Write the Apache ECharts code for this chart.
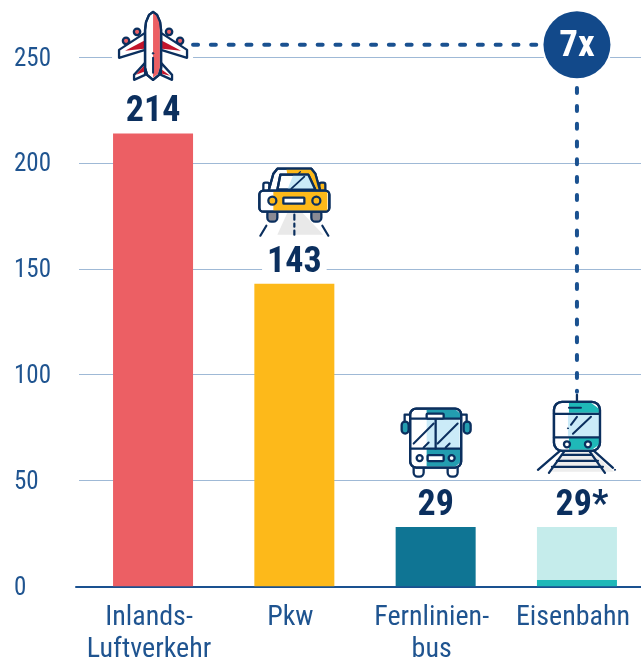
<!DOCTYPE html>
<html><head><meta charset="utf-8">
<style>html,body{margin:0;padding:0;background:#fff}#c{width:641px;height:659px}</style>
<script src="https://cdn.jsdelivr.net/npm/echarts@6/dist/echarts.min.js"></script>
</head><body><div id="c"></div>
<script>
const categories = ['Inlands-\nLuftverkehr', 'Pkw', 'Fernlinien-\nbus', 'Eisenbahn'];
const mainValues = [214, 143, 28, 3];
const lightValues = ['-', '-', '-', 25];
const totals = [214, 143, 28, 28];
const valueLabels = ['214', '143', '29', '29*'];
const yTicks = [0, 50, 100, 150, 200, 250];
const iconAnchors = [[0, 255.4, 'plane'], [1, 182.7, 'car'], [2, 68.4, 'bus'], [3, 71.6, 'train']];
const factorLabel = '7x';
const linkLevel = 255.9, linkEnd = 92;

const NAVY = '#0B2F5E', BLUE = '#1A5190', RED = '#EC5F64', DRED = '#C2142A', YEL = '#FDB91A',
  TEAL = '#0F7594', MTEAL = '#239DB0', LTEAL = '#C5ECEB', TTEAL = '#1FB8B8', GLASS = '#CBEBF8';
const barColors = [RED, YEL, TEAL, TTEAL];

const st = (fill, stroke, w) => ({ fill: fill || 'none', stroke: stroke === undefined ? NAVY : stroke, lineWidth: w || 2.3, lineJoin: 'round', lineCap: 'round' });
const poly = (pts, fill, stroke, w) => ({ type: 'polygon', shape: { points: pts }, style: st(fill, stroke, w) });
const pl = (pts, w, col) => ({ type: 'polyline', shape: { points: pts }, style: st(null, col, w) });
const rr = (x, y, width, height, r, fill, stroke, w) => ({ type: 'rect', shape: { x, y, width, height, r }, style: st(fill, stroke, w) });
const circ = (cx, cy, r, fill, stroke, w) => ({ type: 'circle', shape: { cx, cy, r }, style: st(fill, stroke, w) });
const NO = 'transparent';

const mirrorX = pts => pts.map(p => [-p[0], p[1]]);
function planeIcon() {
  const wing = [[-8, -13], [-34, 4], [-34, 12], [-8, 4]];
  const tail = [[-8, 17], [-19, 29], [-19, 34], [-8, 29]];
  const fus = [[0, -34], [4, -31], [7, -24], [8, -16], [8, 22], [6, 29], [0, 34], [-6, 29], [-8, 22], [-8, -16], [-7, -24], [-4, -31]];
  const out = [rr(-41, 8, 81, 6, 0, '#fff', NO)];
  [[16, -14], [27, -5]].forEach(p => {
    out.push(circ(-p[0], p[1], 3.2, RED), circ(p[0], p[1], 3.2, RED));
  });
  out.push(poly(wing, '#fff'), poly(mirrorX(wing), '#fff'), poly(tail, '#fff'), poly(mirrorX(tail), '#fff'));
  out.push(poly([[-28, 5], [-9, -5], [-9, 3]], DRED, NO), poly(mirrorX([[-28, 5], [-9, -5], [-9, 3]]), DRED, NO));
  out.push(poly([[-17, 29], [-9, 20], [-9, 26]], DRED, NO), poly(mirrorX([[-17, 30], [-9, 24], [-9, 28]]), DRED, NO));
  out.push(poly(fus, '#fff'));
  out.push(poly([[0, -33], [4, -30], [6.8, -24], [6.8, 22], [5, 28], [0, 32]], RED, NO));
  out.push(poly(fus, null));
  out.push(pl([[0, 12], [0, 27]], 2), circ(0, 7.5, 0.8, NAVY, NAVY, 1));
  return out;
}
function carIcon() {
  const cab = [[-26, -8], [-21, -26], [-17, -31], [17, -31], [21, -26], [26, -8]];
  return [
    poly([[-17, 35], [-7, 13], [8, 13], [29, 35]], '#E9E9E9', NO),
    pl([[0, 15], [0, 20]], 2.2), pl([[0, 24], [0, 27]], 2.2), pl([[0, 31], [0, 35]], 2.2),
    pl([[-28, 26], [-34, 36]], 2.2), pl([[28, 26], [34, 36]], 2.2),
    rr(-27, 10, 10, 12, 4, '#8A8A94'), rr(17, 10, 10, 12, 4, '#8A8A94'),
    rr(-31, -17, 6, 10, 2, '#fff'), rr(25, -17, 6, 10, 2, YEL),
    poly(cab, '#fff'),
    poly([[-8, -31], [17, -31], [21, -26], [26, -8], [-4, -8]], YEL, NO),
    poly(cab, null),
    poly([[-17, -10], [-14, -25], [14, -25], [21, -10]], '#fff'),
    poly([[-7, -10], [-1, -25], [14, -25], [21, -10]], GLASS, NO),
    poly([[-17, -10], [-14, -25], [14, -25], [21, -10]], null),
    pl([[-3, -11], [10, -23]], 1.8), pl([[4, -26], [6, -28]], 1.2),
    rr(-35, -9, 70, 21, 4, '#fff'),
    poly([[-21, -8], [33, -8], [33, 11], [-21, 11]], YEL, NO),
    rr(-35, -9, 70, 21, 4, null),
    circ(-22, 1, 4, YEL), circ(22, 1, 4, YEL),
    rr(-11, -2, 21, 6, 0.5, '#fff')
  ];
}
function busIcon() {
  return [
    rr(-34, -20, 7, 12, 3.5, MTEAL), rr(28, -20, 7, 12, 3.5, MTEAL),
    pl([[-31, -20], [-31, -27], [-25, -27]]), pl([[31, -20], [31, -27], [25, -27]]),
    rr(-22, 22, 10, 13, 4, '#fff'), rr(12, 22, 10, 13, 4, '#fff'),
    rr(-25.5, -33, 51, 59, 6, '#fff'),
    poly([[-9, -32], [20, -32], [24.5, -28], [24.5, -23], [-9, -23]], MTEAL, NO),
    poly([[-9, 7], [24.5, 7], [24.5, 21], [20, 25], [-9, 25]], MTEAL, NO),
    rr(-9, -22, 33, 29, 0, GLASS, NO),
    rr(-25.5, -33, 51, 59, 6, null),
    pl([[-25, -23], [25, -23]]), pl([[-25, 7], [25, 7]]), pl([[0, -23], [0, 7]]),
    pl([[-22, 2], [-2, -18]], 2), pl([[-12, 6], [-7, 1]], 2), pl([[2, 2], [22, -18]], 2), pl([[10, 6], [14, 2]], 2),
    rr(-9, -28, 17, 5, 1, '#fff'),
    circ(-16, 16.5, 3, '#fff'), circ(16, 16.5, 3, '#fff'),
    rr(-8, 13.5, 16, 6, 1, '#fff')
  ];
}
function trainIcon() {
  return [
    poly([[-14, 16], [14, 16], [37, 37], [-27, 37]], '#EDEDED', NO),
    pl([[-17, 16], [-39, 35]]), pl([[17, 16], [36, 33]]), pl([[-13, 17], [-28, 38]]), pl([[13, 17], [28, 38]]),
    pl([[-15, 20], [15, 20]]), pl([[-20, 26], [21, 26]]), pl([[-25, 32], [26, 32]]),
    circ(38, 35, 0.6, NAVY, NAVY, 1),
    pl([[0, -40], [0, -33]]),
    rr(-23, -33, 46, 49, 8, '#fff'),
    poly([[-8, -32], [14, -32], [22, -26], [22, -22], [-8, -22]], TTEAL, NO),
    poly([[-8, 3], [22, 3], [22, 10], [15, 15], [-8, 15]], TTEAL, NO),
    rr(-9, -20, 31, 22, 0, GLASS, NO),
    rr(-23, -33, 46, 49, 8, null),
    pl([[-23, -21], [23, -21]]), pl([[-23, 2.5], [23, 2.5]]),
    pl([[-8, -27], [4, -27]], 2),
    pl([[-4, -1], [14, -18]], 2), pl([[-6, -10], [0, -18]], 2), circ(-9, -6.5, 0.5, NAVY, NAVY, 1),
    circ(-10, 9.5, 3, '#fff'), circ(11, 9.5, 3, '#fff')
  ];
}
const iconMakers = { plane: planeIcon, car: carIcon, bus: busIcon, train: trainIcon };

const font = '"Liberation Sans Narrow","Roboto Condensed","Liberation Sans",sans-serif';
const chart = echarts.init(document.getElementById('c'), null, { renderer: 'canvas' });
const TOP = 57.3, H = 529;
chart.setOption({
  animation: false,
  backgroundColor: '#fff',
  grid: [
    { left: 79, right: 0, top: TOP, height: H, outerBoundsMode: 'none' },
    { left: 76, right: 0, top: TOP, height: H, outerBoundsMode: 'none' },
    { left: 82.4, width: 565.2, top: TOP, height: H, outerBoundsMode: 'none' }
  ],
  xAxis: [
    { gridIndex: 0, type: 'value', show: false },
    { gridIndex: 1, type: 'value', axisLine: { show: true, onZero: false, lineStyle: { color: '#1A5190', width: 2 } }, axisTick: { show: false }, axisLabel: { show: false }, splitLine: { show: false } },
    { gridIndex: 2, type: 'category', data: categories, axisLine: { show: false }, axisTick: { show: false },
      axisLabel: { show: true, interval: 0, margin: 16, padding: [0, 8, 0, 0], fontFamily: font, fontSize: 28, lineHeight: 32, color: '#1F5490' } }
  ],
  yAxis: [
    { gridIndex: 0, type: 'value', min: 0, max: 250, interval: 50, axisLine: { show: false }, axisTick: { show: false },
      splitLine: { show: true, showMinLine: false, lineStyle: { color: '#9FB9D6', width: 1 } },
      axisLabel: { show: true, margin: 65, align: 'left', formatter: '{t|{value}}',
        rich: { t: { padding: [4, 0, 0, 0], fontFamily: font, fontSize: 25, color: '#1F5490' } },
        fontFamily: font, fontSize: 25, color: '#1F5490', customValues: yTicks } },
    { gridIndex: 1, type: 'value', min: 0, max: 250, show: false },
    { gridIndex: 2, type: 'value', min: 0, max: 250, show: false }
  ],
  series: [
    { type: 'bar', xAxisIndex: 2, yAxisIndex: 2, stack: 's', barWidth: 80, z: 3,
      data: mainValues.map((v, i) => ({ value: v, itemStyle: { color: barColors[i] } })) },
    { type: 'bar', xAxisIndex: 2, yAxisIndex: 2, stack: 's', barWidth: 80, z: 3,
      data: lightValues, itemStyle: { color: LTEAL } },
    { type: 'scatter', xAxisIndex: 2, yAxisIndex: 2, symbolSize: 0, z: 4, clip: false,
      itemStyle: { opacity: 1 },
      data: totals.map((v, i) => ({ value: [i, v], label: {
        offset: i === 3 ? [5, 0] : [0, 0]
      } })),
      label: { show: true, position: 'top', distance: 3, fontFamily: font, fontWeight: 'bold', fontSize: 36,
        color: NAVY, backgroundColor: '#fff', padding: [0, 5, 0, 5], lineHeight: 36, opacity: 1,
        formatter: p => valueLabels[p.dataIndex] } },
    { type: 'custom', xAxisIndex: 2, yAxisIndex: 2, z: 5, clip: false, data: [[linkLevel]],
      renderItem: (params, api) => {
        const a = api.coord([0, linkLevel]), b = api.coord([3, linkLevel]), c = api.coord([3, linkEnd]);
        return { type: 'group', children: [
          { type: 'polyline', shape: { points: [[a[0] + 40, a[1]], b, c] },
            style: { fill: 'none', stroke: BLUE, lineWidth: 4, lineCap: 'round', lineDash: [5, 12.8] } },
          { type: 'circle', shape: { cx: b[0], cy: b[1], r: 35.5 }, style: { fill: '#fff' } },
          { type: 'circle', shape: { cx: b[0], cy: b[1], r: 33.5 }, style: { fill: '#12498A' } },
          { type: 'text', style: { x: b[0], y: b[1] + 1.5, text: factorLabel, align: 'center', verticalAlign: 'middle',
            fontFamily: font, fontWeight: 'bold', fontSize: 37, fill: '#fff' } }
        ] };
      } },
    { type: 'custom', xAxisIndex: 2, yAxisIndex: 2, z: 6, clip: false, data: iconAnchors,
      encode: { x: 0, y: 1 },
      renderItem: (params, api) => {
        const p = api.coord([api.value(0), api.value(1)]);
        return { type: 'group', x: p[0], y: p[1], children: iconMakers[iconAnchors[params.dataIndex][2]]() };
      } }
  ]
});
</script></body></html>
